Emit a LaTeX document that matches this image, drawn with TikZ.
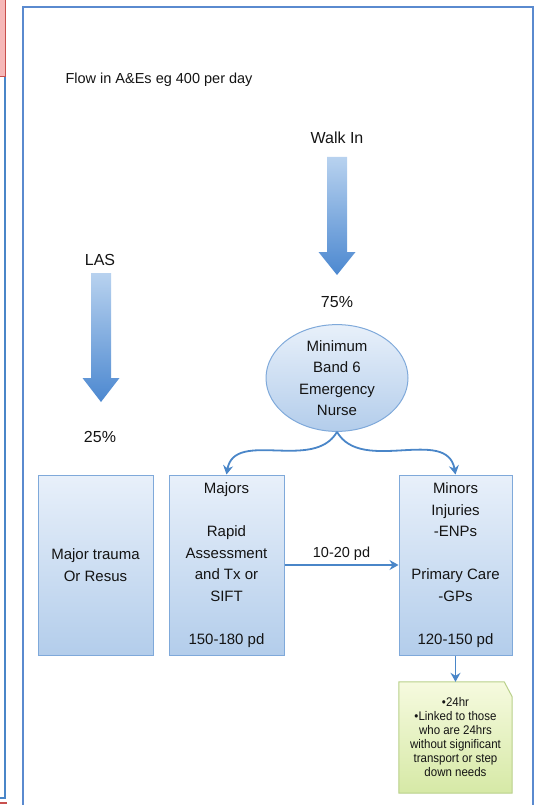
\documentclass[tikz,border=0pt]{standalone}
\usepackage{fontspec}
\setmainfont{Liberation Sans}
\newfontfamily\narrowfont[FakeStretch=0.92]{Liberation Sans}
\usepackage{tikz}
\usetikzlibrary{arrows.meta,shapes.geometric}

\definecolor{frameblue}{HTML}{5A8ACF}
\definecolor{flowblue}{HTML}{4A86C8}
\definecolor{boxtop}{HTML}{E8F0FA}
\definecolor{boxbot}{HTML}{B3CDEB}
\definecolor{boxline}{HTML}{7FA9DA}
\definecolor{arrowtop}{HTML}{B8D2EF}
\definecolor{arrowbot}{HTML}{4C88D0}
\definecolor{notetop}{HTML}{F6FADF}
\definecolor{notebot}{HTML}{D6E9A6}
\definecolor{noteline}{HTML}{B9D08A}
\definecolor{pinkfill}{HTML}{F6B8B8}
\definecolor{redline}{HTML}{C8504D}
\definecolor{inktext}{HTML}{141414}

\begin{document}
\begin{tikzpicture}[x=1pt, y=-1pt,
    every node/.style={text=inktext},
    unit/.style={draw=boxline, line width=1pt, top color=boxtop, bottom color=boxbot,
        minimum width=115pt, minimum height=180pt, inner sep=2pt, align=center,
        font=\fontsize{15}{21.5}\selectfont},
    label/.style={font=\fontsize{16}{19}\selectfont},
    flow/.style={draw=flowblue, line width=1.8pt, -{Stealth[length=9pt,width=10pt,inset=3pt]}}]
    \useasboundingbox (0,0) rectangle (536,805);

    % Left page strip
    \draw[redline, fill=pinkfill, line width=1pt] (-5,-5) rectangle (5,77);
    \draw[flowblue, line width=2.5pt] (5,77) -- (5,798) -- (0,798);
    \draw[redline, line width=1.5pt] (0,803) -- (7,803);

    % Frame
    \draw[frameblue, line width=1.5pt] (23,805) -- (23,7) -- (533,7) -- (533,805);

    \node[anchor=west, font=\fontsize{14.5}{17}\selectfont] (title) at (62,80) {Flow in A\&Es eg 400 per day};

    % Block arrows (centre x / top / head base / tip)
    \foreach \cx/\top/\base/\tip in {337/157/252/275, 101/273/378/402} {
        \shade[top color=arrowtop, bottom color=arrowbot]
            (\cx-10,\top) -- (\cx+10,\top) -- (\cx+10,\base) -- (\cx+18.5,\base)
            -- (\cx,\tip) -- (\cx-18.5,\base) -- (\cx-10,\base) -- cycle;
    }

    \node[label] (walkin) at (337,138) {Walk In};
    \node[label] (walkpc) at (337,302) {75\%};
    \node[label] (las) at (100,260) {LAS};
    \node[label] (laspc) at (100,437) {25\%};

    % Triage nurse
    \node[ellipse, draw=boxline, line width=1pt, top color=boxtop, bottom color=boxbot,
        minimum width=142pt, minimum height=98pt, inner sep=0pt, align=center,
        font=\fontsize{15}{21.5}\selectfont] (nurse) at (337,378)
        {Minimum\\Band 6\\Emergency\\Nurse};

    % Streams
    \node[unit] (resus) at (95.5,565) {Major trauma\\Or Resus};
    \node[unit] (majors) at (226.5,565)
        {Majors\\[21.5pt]Rapid\\Assessment\\and Tx or\\SIFT\\[21.5pt]150-180 pd};
    \node[unit, minimum width=113pt] (minors) at (455.5,565)
        {Minors\\Injuries\\-ENPs\\[21.5pt]Primary Care\\-GPs\\[21.5pt]120-150 pd};

    % Note with cut corner
    \node[minimum width=113pt, minimum height=111pt, inner sep=2pt, align=center,
        font=\narrowfont\fontsize{12.5}{14}\selectfont] (note) at (455.5,737.5) {};
    \draw[noteline, line width=1pt, top color=notetop, bottom color=notebot]
        (note.south west) -- (note.north west) -- ([xshift=-8pt]note.north east)
        -- ([yshift=-15pt]note.north east) -- (note.south east) -- cycle;
    \node[align=center, font=\narrowfont\fontsize{12.5}{14}\selectfont] (notetext) at (note.center)
        {•24hr\\•Linked to those\\who are 24hrs\\without significant\\transport or step\\down needs};

    % Connectors
    \draw[flow] (nurse.south) to[out=-120, in=80] (majors.north);
    \draw[flow] (nurse.south) to[out=-60, in=100] (minors.north);
    \draw[flow] (majors.east) -- node[above, font=\fontsize{14.5}{17}\selectfont] {10-20 pd} (minors.west);
    \draw[flow] (minors.south) -- (note.north);
\end{tikzpicture}
\end{document}
